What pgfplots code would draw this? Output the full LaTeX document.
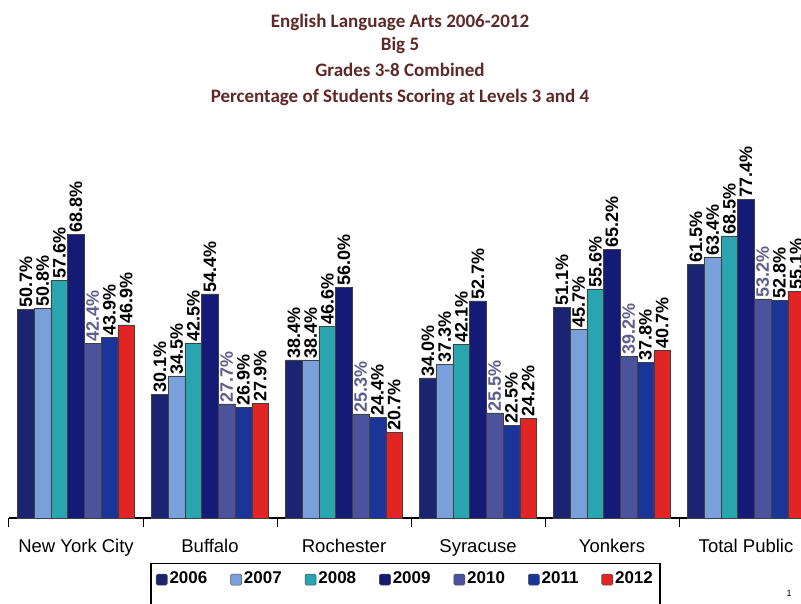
\documentclass[border=0pt]{standalone}
\usepackage{pgfplots}
\usepackage{pgfplotstable}
\pgfplotsset{compat=1.18}
\usepackage{fontspec}
\setmainfont{Liberation Sans}
\newfontfamily\titlefont{Carlito}
\definecolor{c06}{RGB}{26,36,112}
\definecolor{c07}{RGB}{122,160,220}
\definecolor{c08}{RGB}{40,165,175}
\definecolor{c09}{RGB}{20,26,118}
\definecolor{c10}{RGB}{76,82,156}
\definecolor{c11}{RGB}{26,52,152}
\definecolor{c12}{RGB}{226,36,36}
\definecolor{titlec}{RGB}{95,40,40}
\definecolor{lab10}{RGB}{95,95,140}
\pgfplotstableread{
x y06 y07 y08 y09 y10 y11 y12
0 50.7 50.8 57.6 68.8 42.4 43.9 46.9
1 30.1 34.5 42.5 54.4 27.7 26.9 27.9
2 38.4 38.4 46.6 56.0 25.3 24.4 20.7
3 34.0 37.3 42.1 52.7 25.5 22.5 24.2
4 51.1 45.7 55.6 65.2 39.2 37.8 40.7
5 61.5 63.4 68.5 77.4 53.2 52.8 55.1
}\datatable
\begin{document}
\begin{tikzpicture}[x=1pt,y=1pt]
\begin{axis}[
  name=ax,
  at={(0,0)}, anchor=south west,
  scale only axis, width=796pt, height=379pt,
  xmin=-0.5, xmax=5.44, ymin=0, ymax=92,
  ybar=0pt, bar width=16.7pt,
  axis y line=none,
  axis x line*=bottom,
  axis line style={-, line width=1.2pt, black},
  xtick={0,...,5},
  xticklabels={New York City,Buffalo,Rochester,Syracuse,Yonkers,Total Public},
  xtick style={draw=none},
  major tick length=9pt, tick align=outside,
  extra x ticks={-0.5,0.5,1.5,2.5,3.5,4.5},
  extra x tick labels={},
  extra x tick style={xtick style={draw=black, line width=1pt}},
  xticklabel style={font=\fontsize{18.5}{20}\selectfont, yshift=-9pt},
  clip=false,
  /pgf/number format/assume math mode=true,
  nodes near coords={\pgfmathprintnumber[fixed,fixed zerofill,precision=1,assume math mode=true]{\pgfplotspointmeta}\%},
  every node near coord/.append style={rotate=90, anchor=west, inner sep=1.5pt, font=\bfseries\fontsize{18}{19}\selectfont, text=black},
  legend image code/.code={\draw[#1, draw=black!70, rounded corners=1.5pt, line width=0.6pt] (0pt,0.5pt) rectangle (11pt,11.5pt);},
  legend columns=7,
  legend style={at={(0.498,-0.1187)}, anchor=north, draw=black, line width=1.3pt,
    inner xsep=5pt, inner ysep=6pt,
    font=\bfseries\fontsize{17}{19}\selectfont,
    nodes={text depth=16pt, inner xsep=2pt},
    /tikz/every even column/.append style={column sep=21pt}},
]
\addplot[fill=c06, draw=black!75, line width=0.5pt] table[x=x,y=y06]{\datatable};
\addplot[fill=c07, draw=black!75, line width=0.5pt] table[x=x,y=y07]{\datatable};
\addplot[fill=c08, draw=black!75, line width=0.5pt] table[x=x,y=y08]{\datatable};
\addplot[fill=c09, draw=black!75, line width=0.5pt] table[x=x,y=y09]{\datatable};
\addplot[fill=c10, draw=black!75, line width=0.5pt, every node near coord/.append style={text=lab10}] table[x=x,y=y10]{\datatable};
\addplot[fill=c11, draw=black!75, line width=0.5pt] table[x=x,y=y11]{\datatable};
\addplot[fill=c12, draw=black!75, line width=0.5pt] table[x=x,y=y12]{\datatable};
\legend{2006,2007,2008,2009,2010,2011,2012}
\end{axis}
\path (ax.south west) ++(-9,-85) coordinate (O);
\begin{scope}[shift={(O)}]
\begin{scope}[titlec,font=\titlefont\bfseries\fontsize{19}{22}\selectfont]
\node at (400,581) {English Language Arts 2006-2012};
\node at (400,558) {Big 5};
\node at (400,533) {Grades 3-8 Combined};
\node at (400,506) {Percentage of Students Scoring at Levels 3 and 4};
\end{scope}
\node[font=\fontsize{9}{10}\selectfont] at (789,10) {1};
\pgfresetboundingbox
\path[use as bounding box] (0,0) rectangle (801,603);
\end{scope}
\end{tikzpicture}
\end{document}
